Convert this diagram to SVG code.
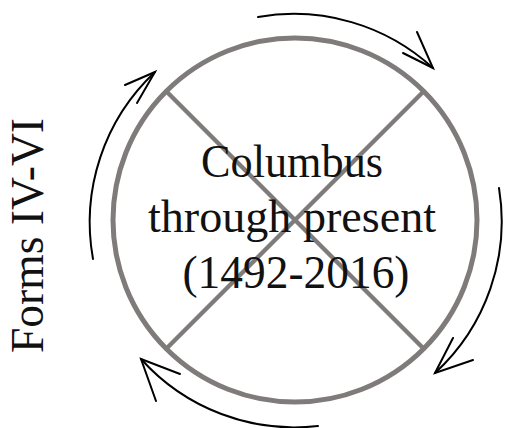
<svg xmlns="http://www.w3.org/2000/svg" width="506" height="428" viewBox="0 0 506 428">
<style>
.ring{fill:none;stroke:#7f7b7a;stroke-width:5}
.cross{stroke:#7f7b7a;stroke-width:4.5;stroke-linecap:butt}
.arc{fill:none;stroke:#000;stroke-width:2;stroke-linecap:round;stroke-linejoin:miter}
.lbl{font-family:"Liberation Serif","Times New Roman",serif;font-size:47px;fill:#111;text-anchor:middle}
</style>
<rect width="506" height="428" fill="#fff"/>
<g id="circle-node">
<circle class="ring" cx="295" cy="220" r="182"/>
<line class="cross" x1="166" y1="91" x2="424" y2="349"/>
<line class="cross" x1="424" y1="91" x2="166" y2="349"/>
<text class="lbl" x="292" y="177" textLength="182" lengthAdjust="spacingAndGlyphs">Columbus</text>
<text class="lbl" x="292" y="232" textLength="288" lengthAdjust="spacingAndGlyphs">through present</text>
<text class="lbl" x="296" y="288" textLength="227" lengthAdjust="spacingAndGlyphs">(1492-2016)</text>
</g>
<g id="side-label">
<text class="lbl" transform="translate(43,235.5) rotate(-90)" x="0" y="0" textLength="235" lengthAdjust="spacingAndGlyphs">Forms IV-VI</text>
</g>
<g id="connectors">
<path class="arc" d="M258,17 A206,206 0 0 1 433,68"/>
<path class="arc" d="M417,32 L433,68 L403,53"/>
<path class="arc" d="M499,188 A206,206 0 0 1 435,373"/>
<path class="arc" d="M453,338 L435,373 L473,360"/>
<path class="arc" d="M318,426 A206,206 0 0 1 141,359"/>
<path class="arc" d="M180,374 L141,359 L156,401"/>
<path class="arc" d="M93,259 A206,206 0 0 1 155,72"/>
<path class="arc" d="M125,85 L155,72 L137,103"/>
</g>
</svg>
